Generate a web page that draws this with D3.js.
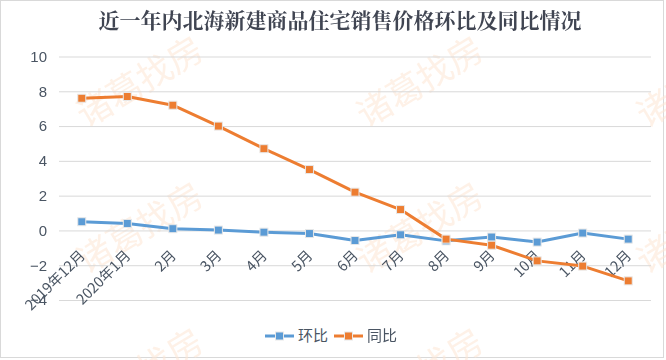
<!DOCTYPE html>
<html lang="zh">
<head>
<meta charset="UTF-8">
<title>line chart</title>
<script src="https://cdnjs.cloudflare.com/ajax/libs/d3/7.8.5/d3.min.js"></script>
<style>
    * { margin: 0; padding: 0; }
    body { background: #fff; width: 666px; height: 360px; overflow: hidden; }
    text { font-family: "Noto Sans CJK SC", "Noto Sans", sans-serif; }
</style>
</head>
<body>
<div id="chart"></div>
<script>
    // data
    var months = ['2019年12月', '2020年1月', '2月', '3月', '4月', '5月', '6月', '7月', '8月', '9月', '10月', '11月', '12月'];
    var huanbi = [0.5, 0.4, 0.1, 0.02, -0.1, -0.18, -0.58, -0.25, -0.6, -0.38, -0.67, -0.15, -0.5];
    var tongbi = [7.6, 7.7, 7.2, 6.0, 4.7, 3.5, 2.2, 1.2, -0.5, -0.85, -1.75, -2.05, -2.9];
    var yTicks = [-4, -2, 0, 2, 4, 6, 8, 10];
    var seriesNames = ['环比', '同比'];
    var colors = ['#5b9bd5', '#ed7d31'];

    var width = 666, height = 360;
    var plotLeft = 59, plotRight = 651, plotTop = 56.5, plotBottom = 300;

    var svg = d3.select('#chart').append('svg')
        .attr('width', width)
        .attr('height', height);

    svg.append('rect')
        .attr('x', 0.5).attr('y', 0.5)
        .attr('width', 663).attr('height', 357)
        .attr('fill', '#fff')
        .attr('stroke', '#d9d9d9');

    var x = d3.scaleBand().domain(months).range([plotLeft, plotRight]);
    var y = d3.scaleLinear().domain([-4, 10]).range([plotBottom, plotTop]);

    // watermark
    var wm = svg.append('g').attr('fill', '#fde6d4').attr('opacity', 0.55);
    [[140, 82], [420, 82], [700, 82], [140, 228], [420, 228], [700, 228], [140, 374], [420, 374]].forEach(function(p) {
        wm.append('text')
            .attr('transform', 'translate(' + p[0] + ',' + p[1] + ') rotate(-31)')
            .attr('text-anchor', 'middle')
            .attr('dy', '0.35em')
            .style('font-size', '35px')
            .text('诸葛找房');
    });

    // grid + y labels
    var yAxis = d3.axisLeft(y).tickValues(yTicks).tickSize(-(plotRight - plotLeft)).tickPadding(12);
    var gy = svg.append('g')
        .attr('transform', 'translate(' + plotLeft + ',0)')
        .call(yAxis);
    gy.select('.domain').remove();
    gy.selectAll('.tick line').attr('stroke', '#d9d9d9');
    gy.selectAll('.tick text')
        .attr('fill', '#4a5563')
        .style('font-size', '15px')
        .style('font-family', '"Liberation Sans", "Noto Sans", sans-serif');

    // x labels sit near the zero line
    var xAxis = d3.axisBottom(x).tickSize(0);
    var gx = svg.append('g')
        .attr('transform', 'translate(0,' + y(0) + ')')
        .call(xAxis);
    gx.select('.domain').remove();
    gx.selectAll('.tick text')
        .attr('fill', '#4a5563')
        .style('font-size', '14.5px')
        .attr('text-anchor', 'end')
        .attr('dy', '0')
        .attr('transform', 'translate(2,24) rotate(-45)');

    var line = d3.line()
        .x(function(d, i) { return x(months[i]) + x.bandwidth() / 2; })
        .y(function(d) { return y(d); });

    [huanbi, tongbi].forEach(function(vals, k) {
        svg.append('path')
            .datum(vals)
            .attr('fill', 'none')
            .attr('stroke', colors[k])
            .attr('stroke-width', 3)
            .attr('stroke-linejoin', 'round')
            .attr('d', line);
        svg.append('g').selectAll('rect')
            .data(vals)
            .enter()
            .append('rect')
            .attr('x', function(d, i) { return x(months[i]) + x.bandwidth() / 2 - 4; })
            .attr('y', function(d) { return y(d) - 4; })
            .attr('width', 8)
            .attr('height', 8)
            .attr('fill', colors[k])
            .attr('stroke', '#e8e8e8')
            .attr('stroke-width', 1);
    });

    // title
    svg.append('text')
        .attr('x', 340)
        .attr('y', 28)
        .attr('text-anchor', 'middle')
        .attr('fill', '#404552')
        .style('font-size', '21px')
        .style('font-weight', 'bold')
        .style('font-family', '"Noto Serif CJK SC", "Noto Sans CJK SC", serif')
        .text('近一年内北海新建商品住宅销售价格环比及同比情况');

    // legend
    var legend = svg.append('g');
    var lx = [265, 334];
    seriesNames.forEach(function(name, k) {
        var g = legend.append('g').attr('transform', 'translate(' + lx[k] + ',336)');
        g.append('line').attr('x1', 0).attr('x2', 29)
            .attr('stroke', colors[k]).attr('stroke-width', 3);
        g.append('rect').attr('x', 10.5).attr('y', -4).attr('width', 8).attr('height', 8)
            .attr('fill', colors[k]).attr('stroke', '#e8e8e8');
        g.append('text').attr('x', 33).attr('dy', '0.35em')
            .attr('fill', '#4a5563')
            .style('font-size', '15px')
            .text(name);
    });
</script>
</body>
</html>
